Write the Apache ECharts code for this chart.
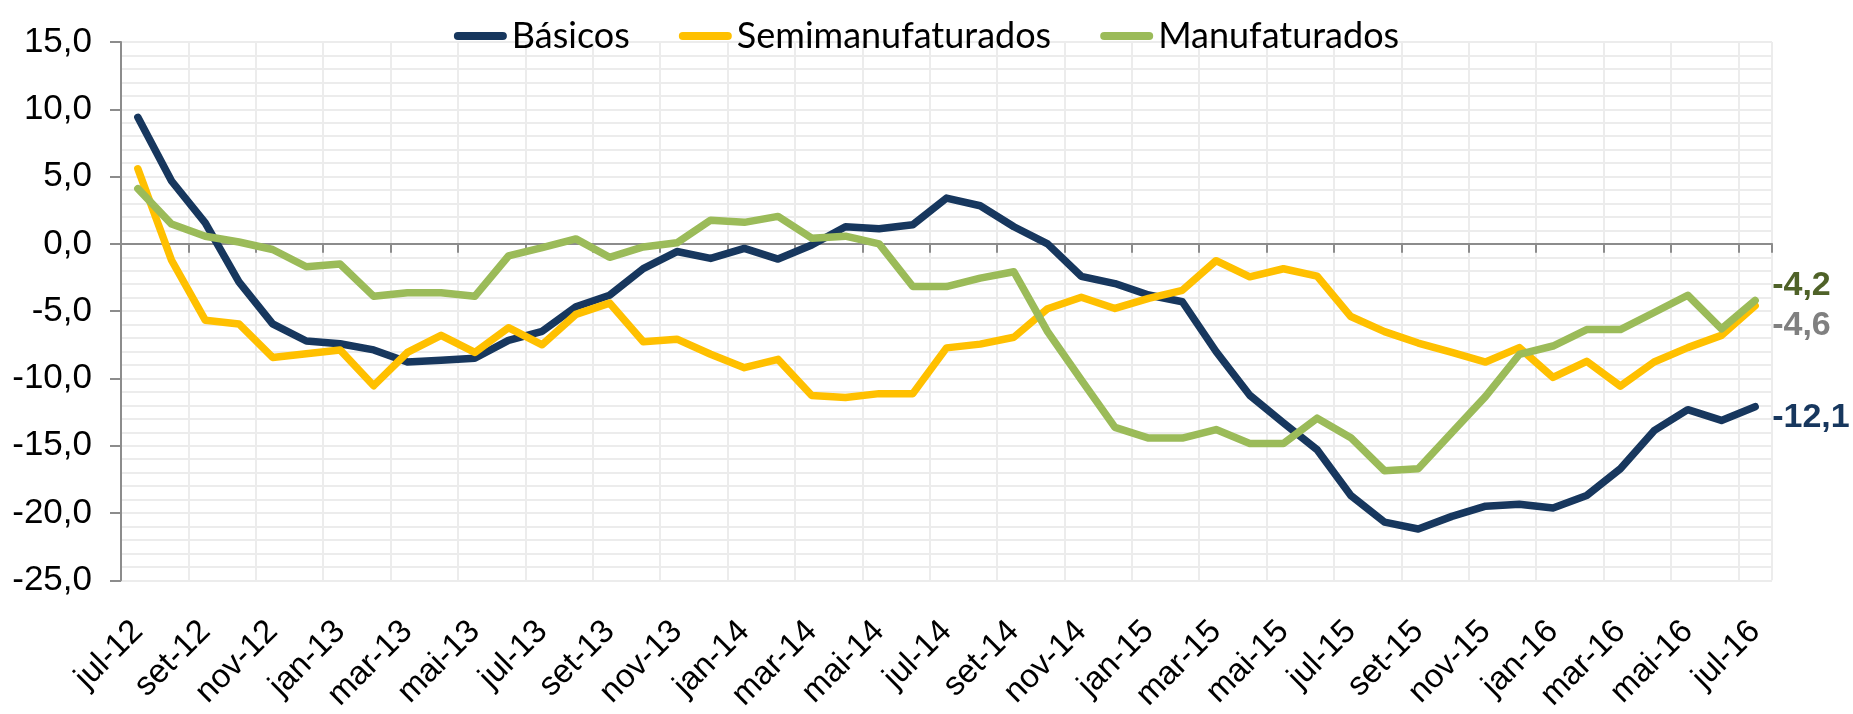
<!DOCTYPE html>
<html>
<head>
<meta charset="utf-8">
<script src="https://cdn.jsdelivr.net/npm/echarts@6/dist/echarts.min.js"></script>
<style>
html,body{margin:0;padding:0;background:#fff;}
#chart{width:1853px;height:714px;}
</style>
</head>
<body>
<div id="chart"></div>
<script>
const categories = [
  'jul-12','ago-12','set-12','out-12','nov-12','dez-12',
  'jan-13','fev-13','mar-13','abr-13','mai-13','jun-13','jul-13','ago-13','set-13','out-13','nov-13','dez-13',
  'jan-14','fev-14','mar-14','abr-14','mai-14','jun-14','jul-14','ago-14','set-14','out-14','nov-14','dez-14',
  'jan-15','fev-15','mar-15','abr-15','mai-15','jun-15','jul-15','ago-15','set-15','out-15','nov-15','dez-15',
  'jan-16','fev-16','mar-16','abr-16','mai-16','jun-16','jul-16'
];

const basicos = [
  9.4, 4.67, 1.56, -2.83, -5.95, -7.22,
  -7.42, -7.88, -8.78, -8.64, -8.5, -7.17, -6.5, -4.67, -3.82, -1.84, -0.57, -1.08,
  -0.34, -1.13, -0.08, 1.27, 1.13, 1.42, 3.4, 2.83, 1.27, 0.0, -2.41, -2.95,
  -3.8, -4.3, -8.0, -11.25, -13.3, -15.3, -18.7, -20.68, -21.19, -20.25, -19.49, -19.35,
  -19.63, -18.7, -16.71, -13.88, -12.32, -13.12, -12.1
];

const semimanufaturados = [
  5.58, -1.22, -5.67, -5.95, -8.44, -8.16,
  -7.88, -10.54, -8.07, -6.8, -8.07, -6.23, -7.5, -5.24, -4.4, -7.28, -7.08, -8.2,
  -9.2, -8.58, -11.27, -11.42, -11.13, -11.13, -7.73, -7.45, -6.94, -4.82, -3.97, -4.8,
  -4.05, -3.45, -1.25, -2.45, -1.85, -2.4, -5.4, -6.52, -7.37, -8.07, -8.78, -7.71,
  -9.92, -8.73, -10.57, -8.78, -7.71, -6.8, -4.6
];

const manufaturados = [
  4.1, 1.47, 0.57, 0.14, -0.42, -1.7,
  -1.5, -3.9, -3.63, -3.63, -3.9, -0.9, -0.28, 0.37, -1.0, -0.23, 0.08, 1.76,
  1.6, 2.04, 0.42, 0.57, 0.0, -3.17, -3.17, -2.55, -2.07, -6.52, -10.11, -13.64,
  -14.43, -14.43, -13.8, -14.83, -14.83, -12.95, -14.4, -16.86, -16.71, -14.02, -11.33, -8.22,
  -7.59, -6.37, -6.37, -5.1, -3.82, -6.32, -4.2
];

const seriesNames = ['Básicos', 'Semimanufaturados', 'Manufaturados'];
const yTicks = { min: -25, max: 15, interval: 5 };

const colB = '#17375E', colS = '#FFC000', colM = '#9BBB59';
const fmt = v => Number(v).toFixed(1).replace('.', ',');
const baseFont = "'Liberation Sans', Arial, sans-serif";
const legendFont = "Lato, 'Liberation Sans', sans-serif";
const gridColor = '#ececec';
const axisGray = '#8c8c8c';

function lineSeries(name, data, color, labelColor, dy) {
  return {
    name: name,
    type: 'line',
    data: data,
    xAxisIndex: 0,
    yAxisIndex: 0,
    showSymbol: false,
    symbol: 'none',
    lineStyle: { color: color, width: 7.5, cap: 'round', join: 'round' },
    itemStyle: { color: color },
    endLabel: {
      show: true,
      formatter: p => fmt(p.value),
      color: labelColor,
      fontFamily: baseFont,
      fontWeight: 'bold',
      fontSize: 34,
      distance: 17,
      offset: [0, dy]
    },
    emphasis: { disabled: true }
  };
}

const capsule = 'path://M4,0 L49,0 A4,4 0 0 1 49,8 L4,8 A4,4 0 0 1 4,0 Z';

const chart = echarts.init(document.getElementById('chart'), null, { renderer: 'canvas' });
chart.setOption({
  animation: false,
  backgroundColor: '#ffffff',
  legend: {
    data: seriesNames,
    left: 'center',
    top: 11,
    icon: capsule,
    itemWidth: 53,
    itemHeight: 8,
    itemGap: 49,
    textStyle: { fontFamily: legendFont, fontSize: 36, color: '#000', lineHeight: 40, padding: [0, 0, 0, 0] }
  },
  grid: { left: 121, right: 81, top: 42, bottom: 132, containLabel: false },
  xAxis: [
    {
      type: 'category',
      data: categories,
      boundaryGap: true,
      position: 'bottom',
      axisLine: { show: false, onZero: false },
      axisTick: { show: false },
      axisLabel: {
        interval: 1,
        rotate: 45,
        margin: 46,
        fontFamily: baseFont,
        fontSize: 33,
        color: '#000'
      },
      splitLine: { show: true, interval: 1, lineStyle: { color: gridColor, width: 2 } }
    },
    {
      type: 'category',
      data: categories,
      boundaryGap: true,
      position: 'bottom',
      axisLine: { show: true, onZero: true, lineStyle: { color: axisGray, width: 2 } },
      axisTick: { show: true, interval: 1, length: 9, inside: false, lineStyle: { color: axisGray, width: 2 } },
      axisLabel: { show: false },
      splitLine: { show: false }
    }
  ],
  yAxis: {
    type: 'value',
    min: yTicks.min,
    max: yTicks.max,
    interval: yTicks.interval,
    axisLine: { show: true, lineStyle: { color: axisGray, width: 2 } },
    axisTick: { show: true, length: 11, lineStyle: { color: axisGray, width: 2 } },
    axisLabel: {
      formatter: v => fmt(v),
      fontFamily: baseFont,
      fontSize: 35,
      color: '#000',
      margin: 29
    },
    splitLine: { show: true, lineStyle: { color: gridColor, width: 2 } },
    minorTick: { show: false, splitNumber: 5 },
    minorSplitLine: { show: true, lineStyle: { color: gridColor, width: 2 } }
  },
  series: [
    lineSeries(seriesNames[0], basicos, colB, colB, 11),
    lineSeries(seriesNames[1], semimanufaturados, colS, '#808080', 20),
    lineSeries(seriesNames[2], manufaturados, colM, '#4F6228', -15)
  ]
});
</script>
</body>
</html>
